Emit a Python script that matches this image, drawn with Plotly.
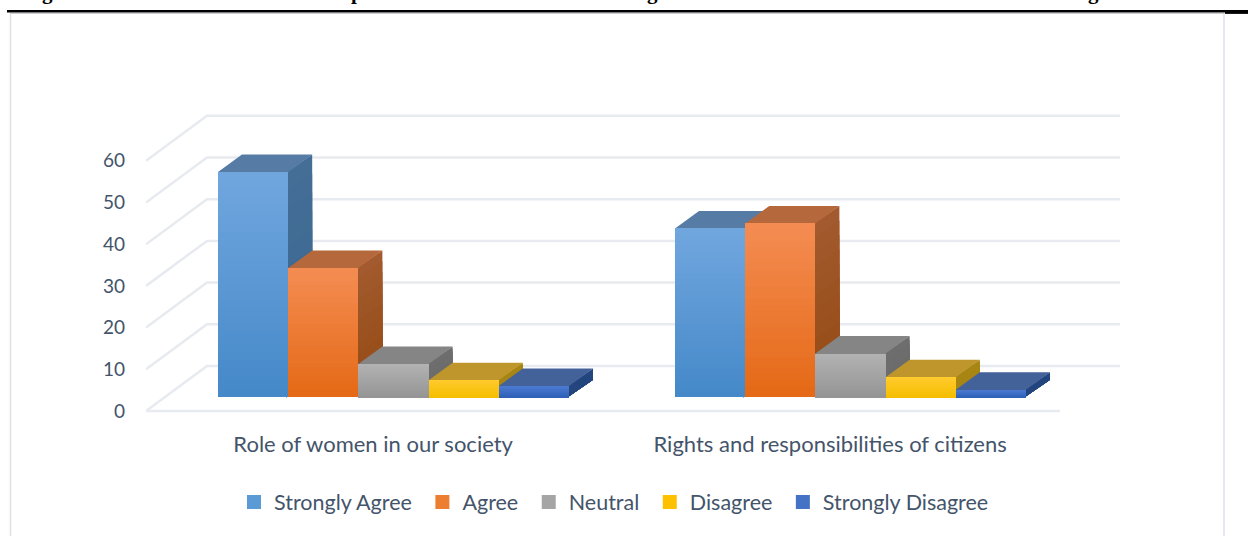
import plotly.graph_objects as go

categories = ["Role of women in our society", "Rights and responsibilities of citizens"]
series = ["Strongly Agree", "Agree", "Neutral", "Disagree", "Strongly Disagree"]
strongly_agree = [54, 40.5]
agree = [31, 41.7]
neutral = [8, 10.5]
disagree = [4.1, 4.8]
strongly_disagree = [2.7, 1.8]
y_ticks = [0, 10, 20, 30, 40, 50, 60]
values = [strongly_agree, agree, neutral, disagree, strongly_disagree]

# style: (gradient top, gradient bottom, legend, top face, side top, side bottom)
styles = [
    ((112, 166, 222), (68, 136, 200), "#5B9BD5", "#567CA6", (68, 110, 150), (56, 100, 144)),
    ((244, 140, 82), (228, 104, 20), "#ED7D31", "#B5683C", (162, 90, 46), (148, 74, 18)),
    ((178, 178, 178), (148, 148, 148), "#A5A5A5", "#858585", (110, 110, 110), (106, 106, 106)),
    ((255, 202, 44), (245, 190, 0), "#FFC000", "#BE962C", (168, 134, 20), (168, 134, 20)),
    ((76, 122, 210), (46, 96, 184), "#4472C4", "#44629A", (36, 70, 127), (36, 70, 127)),
]

# pixel geometry of the plot frame
W, H = 1248, 536
PL, PR, PT, PB = 146, 1120, 100, 414
ZERO_PX = 411
BAND = 457.0
UNIT = 4.17
x_range = [-0.5, (PR - PL) / BAND - 0.5]
y_range = [(ZERO_PX - PB) / UNIT, (ZERO_PX - PT) / UNIT]
BAR_W = 70.2 / BAND
BAR_START = 72 / BAND
FLOOR = 13.7 / UNIT
DEPTH_X = 24 / BAND
DEPTH_Y = 17.5 / UNIT
WALL_X = 61 / BAND
WALL_Y = 45 / UNIT
EPS_Y = 1.5 / UNIT
EPS_X = 1.5 / BAND
GRID = "#E7EAEF"
TEXT = "#44546A"
FONT = "Lato"


def px(v):
    return (v - PL) / (PR - PL)


def py(v):
    return (PB - v) / (PB - PT)


def lerp(a, b, t):
    return "rgb(%d,%d,%d)" % tuple(round(a[i] + (b[i] - a[i]) * t) for i in range(3))


fig = go.Figure()

# wall / floor lines
x_left, x_back, x_end = x_range[0], x_range[0] + WALL_X, x_range[1]
x_front_end = x_range[0] + 2
wx, wy = [], []
for t in y_ticks:
    wx += [x_left, x_back, x_end, None]
    wy += [t, t + WALL_Y, t + WALL_Y, None]
wx += [x_left, x_front_end]
wy += [0, 0]
fig.add_trace(go.Scatter(x=wx, y=wy, mode="lines", line=dict(color=GRID, width=2.5),
                         showlegend=False, hoverinfo="skip"))

# depth faces, left to right inside each cluster
K = 12
for c in range(len(categories)):
    for s, vals in enumerate(values):
        v = vals[c]
        x0 = c - 0.5 + BAR_START + s * BAR_W
        x1 = x0 + BAR_W
        top = FLOOR + v
        st = styles[s]
        for k in range(K, 0, -1):
            frac = k / K
            t = FLOOR + v * frac
            fig.add_trace(go.Scatter(
                x=[x1 - EPS_X, x1 + DEPTH_X, x1 + DEPTH_X, x1 - EPS_X, x1 - EPS_X],
                y=[FLOOR, FLOOR + DEPTH_Y, t + DEPTH_Y, t, FLOOR],
                mode="lines", line=dict(width=0), fill="toself", fillcolor=lerp(st[5], st[4], frac),
                showlegend=False, hoverinfo="skip"))
        fig.add_trace(go.Scatter(
            x=[x0, x0 + DEPTH_X, x1 + DEPTH_X, x1, x1, x0, x0],
            y=[top, top + DEPTH_Y, top + DEPTH_Y, top, top - EPS_Y, top - EPS_Y, top],
            mode="lines", line=dict(width=0), fill="toself", fillcolor=st[3],
            showlegend=False, hoverinfo="skip"))

# front faces on an overlaid subplot so that they sit over the depth faces
xs = list(range(len(categories)))
N = 30
for s, vals in enumerate(values):
    st = styles[s]
    off = -0.5 + BAR_START + s * BAR_W
    # legend entry (no drawn bar): 14 px swatch; the no-break space widens the entry gap
    fig.add_trace(go.Bar(x=[None], y=[None], name=series[s] + "\u00a0",
                         marker=dict(color=st[2], line=dict(color=st[2], width=2)),
                         xaxis="x2", yaxis="y2", hoverinfo="skip"))
    fig.add_trace(go.Bar(x=xs, y=vals, base=FLOOR, width=BAR_W, offset=off, name=series[s],
                         marker=dict(color=st[2], line=dict(width=0)), showlegend=False,
                         xaxis="x2", yaxis="y2", hoverinfo="y+name"))
    for k in range(N, 0, -1):
        frac = k / N
        fig.add_trace(go.Bar(x=xs, y=[v * frac for v in vals], base=FLOOR, width=BAR_W, offset=off,
                             marker=dict(color=lerp(st[1], st[0], frac), line=dict(width=0)),
                             xaxis="x2", yaxis="y2", showlegend=False, hoverinfo="skip"))

# page furniture around the chart
shapes = [
    dict(type="line", xref="paper", yref="paper", x0=px(10.5), x1=px(10.5), y0=py(13), y1=py(536),
         line=dict(color="#DDE1E6", width=1.5)),
    dict(type="line", xref="paper", yref="paper", x0=px(1224), x1=px(1224), y0=py(13), y1=py(536),
         line=dict(color="#DDE1E6", width=1.5)),
    dict(type="line", xref="paper", yref="paper", x0=px(10), x1=px(1224), y0=py(13.5), y1=py(13.5),
         line=dict(color="#C9CDD2", width=1)),
    dict(type="line", xref="paper", yref="paper", x0=px(7), x1=px(1248), y0=py(11.3), y1=py(11.3),
         line=dict(color="#000000", width=2.6)),
    dict(type="line", xref="paper", yref="paper", x0=px(1225), x1=px(1248), y0=py(12.6), y1=py(12.6),
         line=dict(color="#000000", width=2.6)),
]
annotations = [
    dict(text="<b>%s</b>" % ch, xref="paper", yref="paper", x=px(xp), y=py(6.5), xanchor="center",
         yanchor="bottom", showarrow=False, font=dict(family="Liberation Serif", size=21, color="#000000"))
    for ch, xp in [("g", 47), ("p", 357), ("g", 652), ("g", 1093)]
]

fig.update_layout(
    width=W, height=H, autosize=False,
    margin=dict(l=PL, r=W - PR, t=PT, b=H - PB, pad=0),
    paper_bgcolor="#FFFFFF", plot_bgcolor="rgba(0,0,0,0)",
    barmode="overlay", bargap=0,
    font=dict(family=FONT, color=TEXT, size=21),
    xaxis=dict(range=x_range, tickmode="array", tickvals=[x - 0.003 for x in xs], ticktext=categories,
               showgrid=False, zeroline=False, showline=False, ticks="",
               ticklabelstandoff=15, tickfont=dict(family=FONT, size=22, color=TEXT)),
    yaxis=dict(range=y_range, tickmode="array", tickvals=y_ticks, showgrid=False, zeroline=False,
               showline=False, ticks="", ticklabelstandoff=20,
               tickfont=dict(family=FONT, size=19, color=TEXT)),
    xaxis2=dict(range=x_range, overlaying="x", visible=False, matches="x"),
    yaxis2=dict(range=y_range, overlaying="y", visible=False, matches="y"),
    legend=dict(orientation="h", x=px(234), y=py(502), xanchor="left", yanchor="middle",
                font=dict(family=FONT, size=21.5, color=TEXT), bgcolor="rgba(0,0,0,0)"),
    shapes=shapes, annotations=annotations,
)
fig.write_html("out.html", config={"displayModeBar": False},
               post_script="document.body.style.margin='0';document.documentElement.style.overflow='hidden';")
